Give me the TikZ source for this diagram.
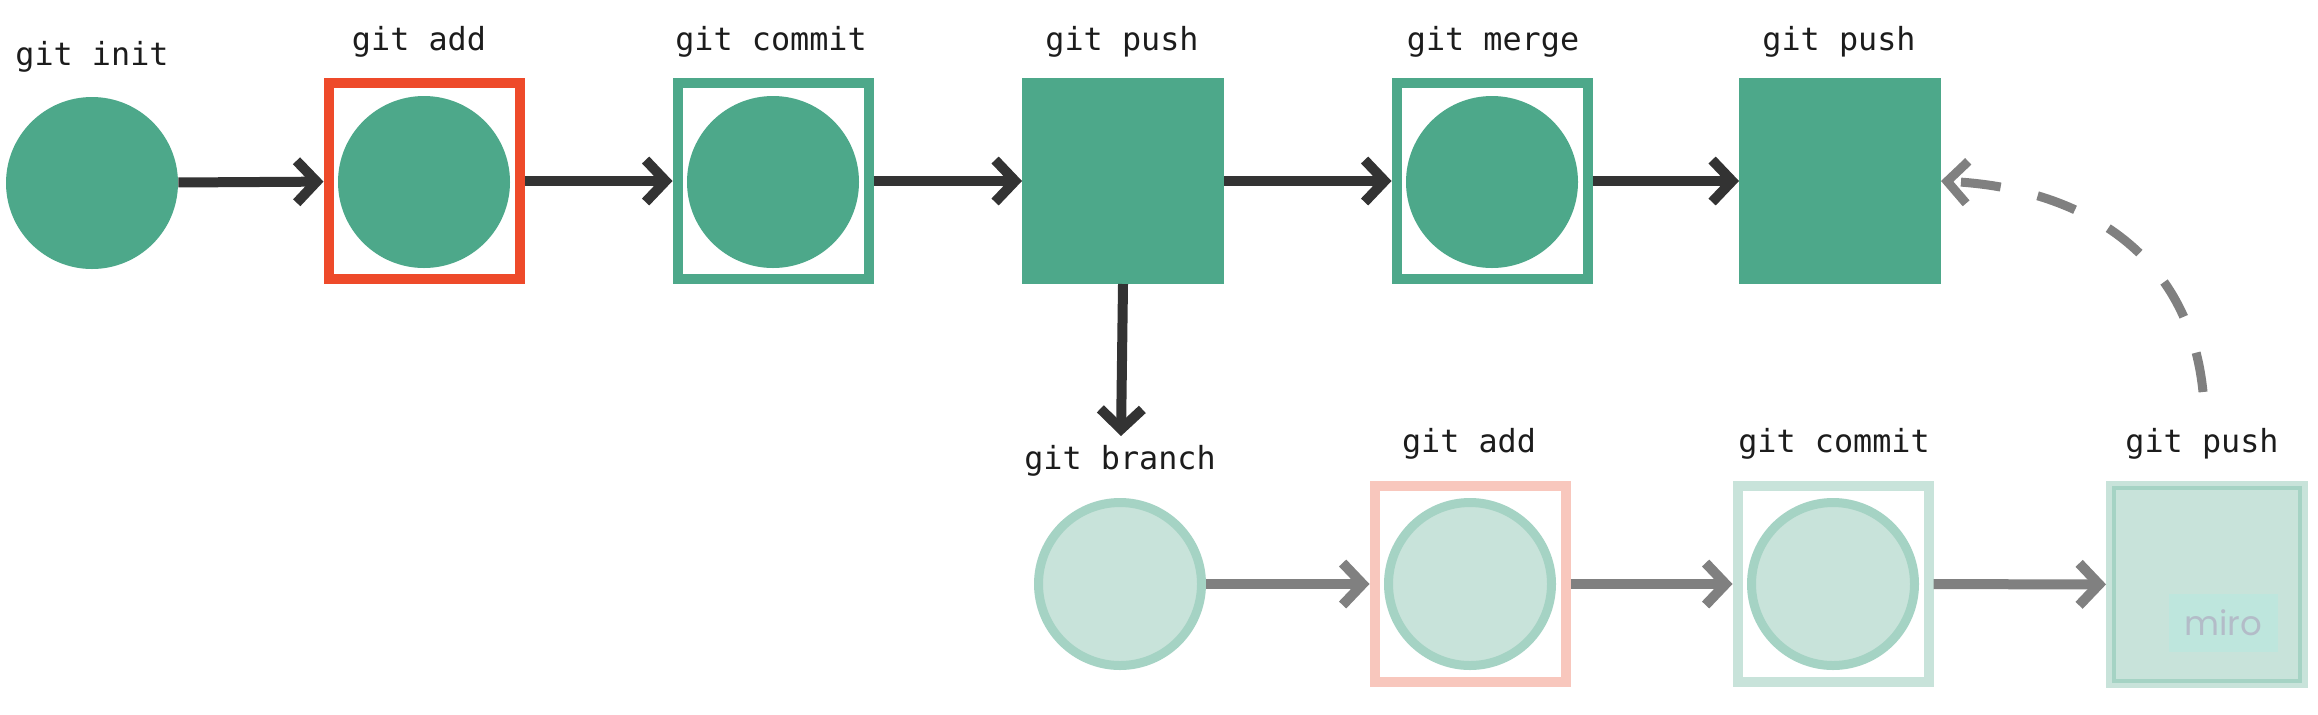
\documentclass[tikz,border=0pt]{standalone}
\usepackage{fontspec}
\newfontfamily\monof{DejaVu Sans Mono}
\newfontfamily\mirof{Poppins}
\usetikzlibrary{arrows.meta}
\definecolor{gdark}{HTML}{4DA88A}
\definecolor{gred}{HTML}{EE4A2A}
\definecolor{glfill}{HTML}{C8E3DA}
\definecolor{glline}{HTML}{A5D3C4}
\definecolor{glred}{HTML}{F8C7BD}
\definecolor{adark}{HTML}{333333}
\definecolor{agray}{HTML}{808080}
\definecolor{txt}{HTML}{1C1C1C}
\definecolor{mirobox}{HTML}{BEE6DD}
\definecolor{mirotext}{HTML}{B3BCC8}
\begin{document}
\begin{tikzpicture}[x=0.5pt,y=-0.5pt,
  lbl/.style={font=\monof\fontsize{15.9}{18}\selectfont, text=txt, anchor=base, inner sep=0pt},
  fullcirc/.style={circle, fill=gdark, inner sep=0pt, minimum size=86pt},
  lightcirc/.style={circle, fill=glfill, draw=glline, line width=4.5pt, inner sep=0pt, minimum size=81.5pt},
  framebox/.style={rectangle, draw=#1, line width=5pt, inner sep=0pt, minimum width=95.5pt, minimum height=98pt},
  fullsq/.style={rectangle, fill=gdark, inner sep=0pt, outer sep=0pt, minimum width=101pt, minimum height=103pt},
  tipshape/.style={-{Straight Barb[length=10pt,width=21pt,sharp]}},
  darr/.style={draw=adark, line width=5pt, tipshape},
  garr/.style={draw=agray, line width=5pt, tipshape},
  dasharr/.style={draw=agray, line width=4.5pt, dash pattern=on 20pt off 19pt, tipshape},
]
\useasboundingbox (0,0) rectangle (2318,714);

% top row
\node[fullcirc] (init) at (92,183) {};
\node[framebox=gred] (addbox) at (424,181) {};
\node[fullcirc] (addc) at (424,182) {};
\node[framebox=gdark] (commitbox) at (773,181) {};
\node[fullcirc] (commitc) at (773,182) {};
\node[fullsq] (push1) at (1123,181) {};
\node[framebox=gdark] (mergebox) at (1492,181) {};
\node[fullcirc] (mergec) at (1492,182) {};
\node[fullsq] (push2) at (1840,181) {};

% top labels
\node[lbl] (linit) at (92,65) {git init};
\node[lbl] (ladd) at (419,50) {git add};
\node[lbl] (lcommit) at (771,50) {git commit};
\node[lbl] (lpush1) at (1122,50) {git push};
\node[lbl] (lmerge) at (1493,50) {git merge};
\node[lbl] (lpush2) at (1839,50) {git push};

% bottom row
\node[lightcirc] (branch) at (1120,584) {};
\node[framebox=glred] (add2box) at (1470,584) {};
\node[lightcirc] (add2c) at (1470,584) {};
\node[framebox=glfill] (commit2box) at (1833,584) {};
\node[lightcirc] (commit2c) at (1833,584) {};
\node[rectangle, fill=glfill, inner sep=0pt, outer sep=0pt, minimum width=101pt, minimum height=103.5pt] (push3) at (2207,584.5) {};
\draw[glline, line width=2pt] (2114,488) rectangle (2300,681);
\node[fill=mirobox, inner sep=0pt, minimum width=54.5pt, minimum height=29pt, text=mirotext, font=\mirof\fontsize{17}{20}\selectfont] (miro) at (2223,623) {miro};

% bottom labels
\node[lbl] (lbranch) at (1120,469) {git branch};
\node[lbl] (ladd2) at (1469,452) {git add};
\node[lbl] (lcommit2) at (1834,452) {git commit};
\node[lbl] (lpush3) at (2202,452) {git push};

% connectors
\draw[darr] (init) -- (addbox);
\draw[darr] (addbox) -- (commitbox);
\draw[darr] (commitbox) -- (push1);
\draw[darr] (push1) -- (mergebox);
\draw[darr] (mergebox) -- (push2);
\coordinate (brtip) at (1121,436);
\draw[darr] (push1.south) -- (brtip);
\draw[garr] (branch) -- (add2box);
\draw[garr] (add2box) -- (commit2box);
\draw[garr] (commit2box) -- (push3);
\coordinate (dstart) at (2203,392);
\draw[dasharr] (dstart) .. controls (2189,252) and (2080,188) .. (push2.east);
\end{tikzpicture}
\end{document}
